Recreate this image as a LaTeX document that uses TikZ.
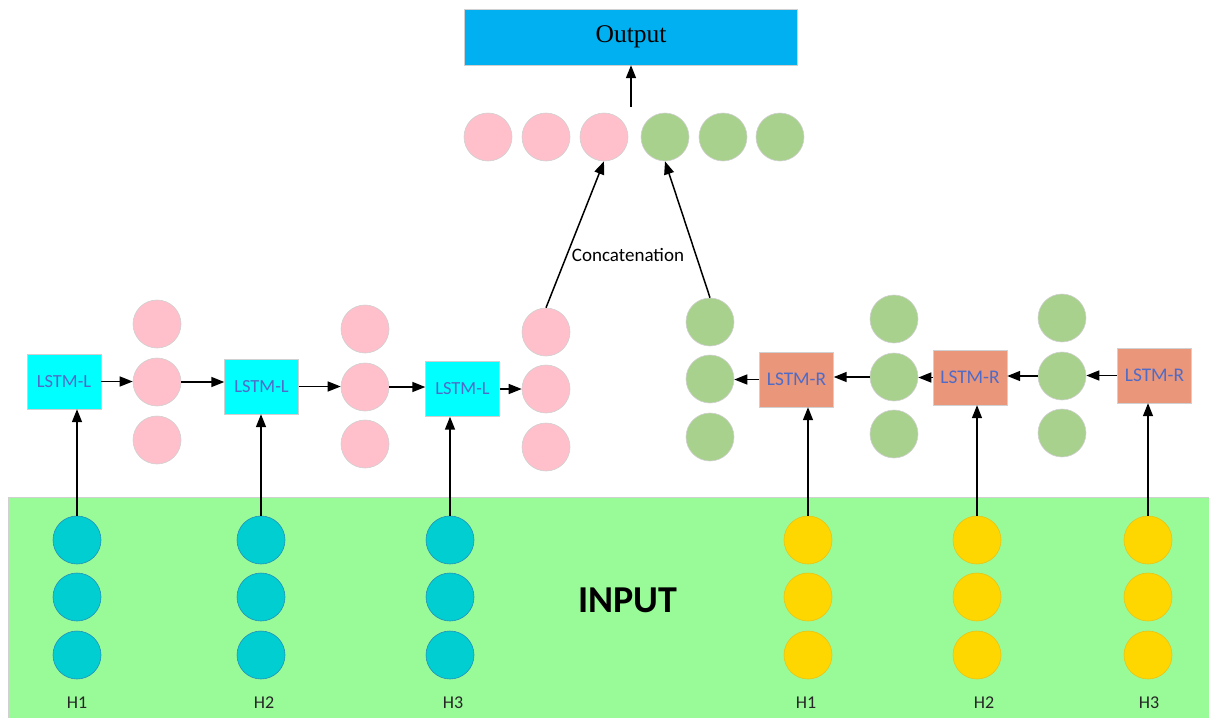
\documentclass[tikz,border=0pt]{standalone}
\usepackage{fontspec}
\setmainfont{Liberation Serif}
\newfontfamily\calfont{Carlito}
\usetikzlibrary{arrows.meta}
\definecolor{outblue}{HTML}{00B0F0}
\definecolor{pinkc}{HTML}{FFC0CB}
\definecolor{greenc}{HTML}{A9D18E}
\definecolor{cyanbox}{HTML}{00FFFF}
\definecolor{salmonbox}{HTML}{E9967A}
\definecolor{lstmtext}{HTML}{4F6BC7}
\definecolor{bggreen}{HTML}{98FB98}
\definecolor{cyanc}{HTML}{00CED1}
\definecolor{yellowc}{HTML}{FFD700}
\definecolor{edgegray}{HTML}{D0D0D0}
\tikzset{
  dot/.style={circle, minimum size=48pt, inner sep=0pt, draw=edgegray, line width=0.6pt},
  pinkdot/.style={dot, fill=pinkc},
  greendot/.style={dot, fill=greenc},
  cyandot/.style={dot, fill=cyanc, draw=cyanc!70!violet},
  yellowdot/.style={dot, fill=yellowc, draw=yellowc!80!gray},
  lbox/.style={draw=edgegray, fill=cyanbox, minimum width=74pt, minimum height=55pt, inner sep=0pt,
    font=\calfont\fontsize{18.5}{18.5}\selectfont, text=lstmtext},
  rbox/.style={draw=edgegray, fill=salmonbox, minimum width=74pt, minimum height=55pt, inner sep=0pt,
    font=\calfont\fontsize{19.3}{19.3}\selectfont, text=lstmtext},
  arr/.style={-{Triangle[length=13pt,width=10pt]}, line width=1.5pt},
  hlabel/.style={font=\calfont\fontsize{18}{18}\selectfont, text=black!85}
}
\begin{document}
\begin{tikzpicture}[x=1pt,y=-1pt]
\useasboundingbox (0,0) rectangle (1209,718);
% input background
\fill[bggreen] (8,497) rectangle (1209,718);
\draw[edgegray, line width=0.6pt] (8,718) -- (8,497) -- (1209,497);
\node[font=\calfont\bfseries\fontsize{38}{38}\selectfont] (inputlbl) at (628,600) {INPUT};

% output box
\node[draw=edgegray, fill=outblue, minimum width=333pt, minimum height=56pt, inner sep=0pt,
  font=\fontsize{25.5}{25.5}\selectfont] (out) at (631,37) {Output};

% top concatenated row
\node[pinkdot] (tp1) at (488,137) {};
\node[pinkdot] (tp2) at (546,137) {};
\node[pinkdot] (tp3) at (604,137) {};
\node[greendot] (tg1) at (665,137) {};
\node[greendot] (tg2) at (723,137) {};
\node[greendot] (tg3) at (780,137) {};
\coordinate (outfoot) at (631,107);
\draw[arr] (outfoot) -- (outfoot |- out.south);

% left LSTM boxes
\node[lbox] (bL1) at (64,381.5) {LSTM-L};
\node[lbox] (bL2) at (261.5,386.5) {LSTM-L};
\node[lbox] (bL3) at (462.5,389) {LSTM-L};

% pink hidden columns
\node[pinkdot] (p1a) at (157,324) {};
\node[pinkdot] (p1b) at (157,382) {};
\node[pinkdot] (p1c) at (157,440) {};
\node[pinkdot] (p2a) at (365,329) {};
\node[pinkdot] (p2b) at (365,387) {};
\node[pinkdot] (p2c) at (365,444) {};
\node[pinkdot] (p3a) at (546,332) {};
\node[pinkdot] (p3b) at (546,389) {};
\node[pinkdot] (p3c) at (546,447) {};

% right LSTM boxes
\node[rbox] (bR1) at (796.5,379.5) {LSTM-R};
\node[rbox] (bR2) at (970,377.5) {LSTM-R};
\node[rbox] (bR3) at (1154.5,375.5) {LSTM-R};

% green hidden columns
\node[greendot] (gAa) at (710,322) {};
\node[greendot] (gAb) at (710,379) {};
\node[greendot] (gAc) at (710,437) {};
\node[greendot] (gBa) at (894,319) {};
\node[greendot] (gBb) at (894,377) {};
\node[greendot] (gBc) at (894,434) {};
\node[greendot] (gCa) at (1062,318) {};
\node[greendot] (gCb) at (1062,376) {};
\node[greendot] (gCc) at (1062,433) {};

% input columns left
\foreach \n/\x in {1/77,2/261,3/450}{
  \node[cyandot] (iL\n a) at (\x,540) {};
  \node[cyandot] (iL\n b) at (\x,597) {};
  \node[cyandot] (iL\n c) at (\x,655) {};
}
\node[hlabel] (hL1) at (77,703) {H1};
\node[hlabel] (hL2) at (264,703) {H2};
\node[hlabel] (hL3) at (453,703) {H3};

% input columns right
\foreach \n/\x in {1/808,2/977,3/1148}{
  \node[yellowdot] (iR\n a) at (\x,540) {};
  \node[yellowdot] (iR\n b) at (\x,597) {};
  \node[yellowdot] (iR\n c) at (\x,655) {};
}
\node[hlabel] (hR1) at (806,703) {H1};
\node[hlabel] (hR2) at (984,703) {H2};
\node[hlabel] (hR3) at (1149,703) {H3};

% left chain arrows
\draw[arr] (bL1.east) -- (bL1.east -| p1b.west);
\draw[arr] (p1b.east) -- (p1b.east -| bL2.west);
\draw[arr] (bL2.east) -- (bL2.east -| p2b.west);
\draw[arr] (p2b.east) -- (p2b.east -| bL3.west);
\draw[arr] (bL3.east) -- (bL3.east -| p3b.west);

% right chain arrows
\draw[arr] (bR3.west) -- (bR3.west -| gCb.east);
\draw[arr] (gCb.west) -- (gCb.west -| bR2.east);
\draw[arr] (bR2.west) -- (bR2.west -| gBb.east);
\draw[arr] (gBb.west) -- (gBb.west -| bR1.east);
\draw[arr] (bR1.west) -- (bR1.west -| gAb.east);

% input arrows
\draw[arr] (iL1a.north) -- (iL1a.north |- bL1.south);
\draw[arr] (iL2a.north) -- (iL2a.north |- bL2.south);
\draw[arr] (iL3a.north) -- (iL3a.north |- bL3.south);
\draw[arr] (iR1a.north) -- (iR1a.north |- bR1.south);
\draw[arr] (iR2a.north) -- (iR2a.north |- bR2.south);
\draw[arr] (iR3a.north) -- (iR3a.north |- bR3.south);

% concatenation
\draw[arr] (p3a.north) -- (tp3.south);
\draw[arr] (gAa.north) -- (tg1.south);
\node[font=\calfont\fontsize{19}{19}\selectfont] (concat) at (628,255) {Concatenation};
\end{tikzpicture}
\end{document}
